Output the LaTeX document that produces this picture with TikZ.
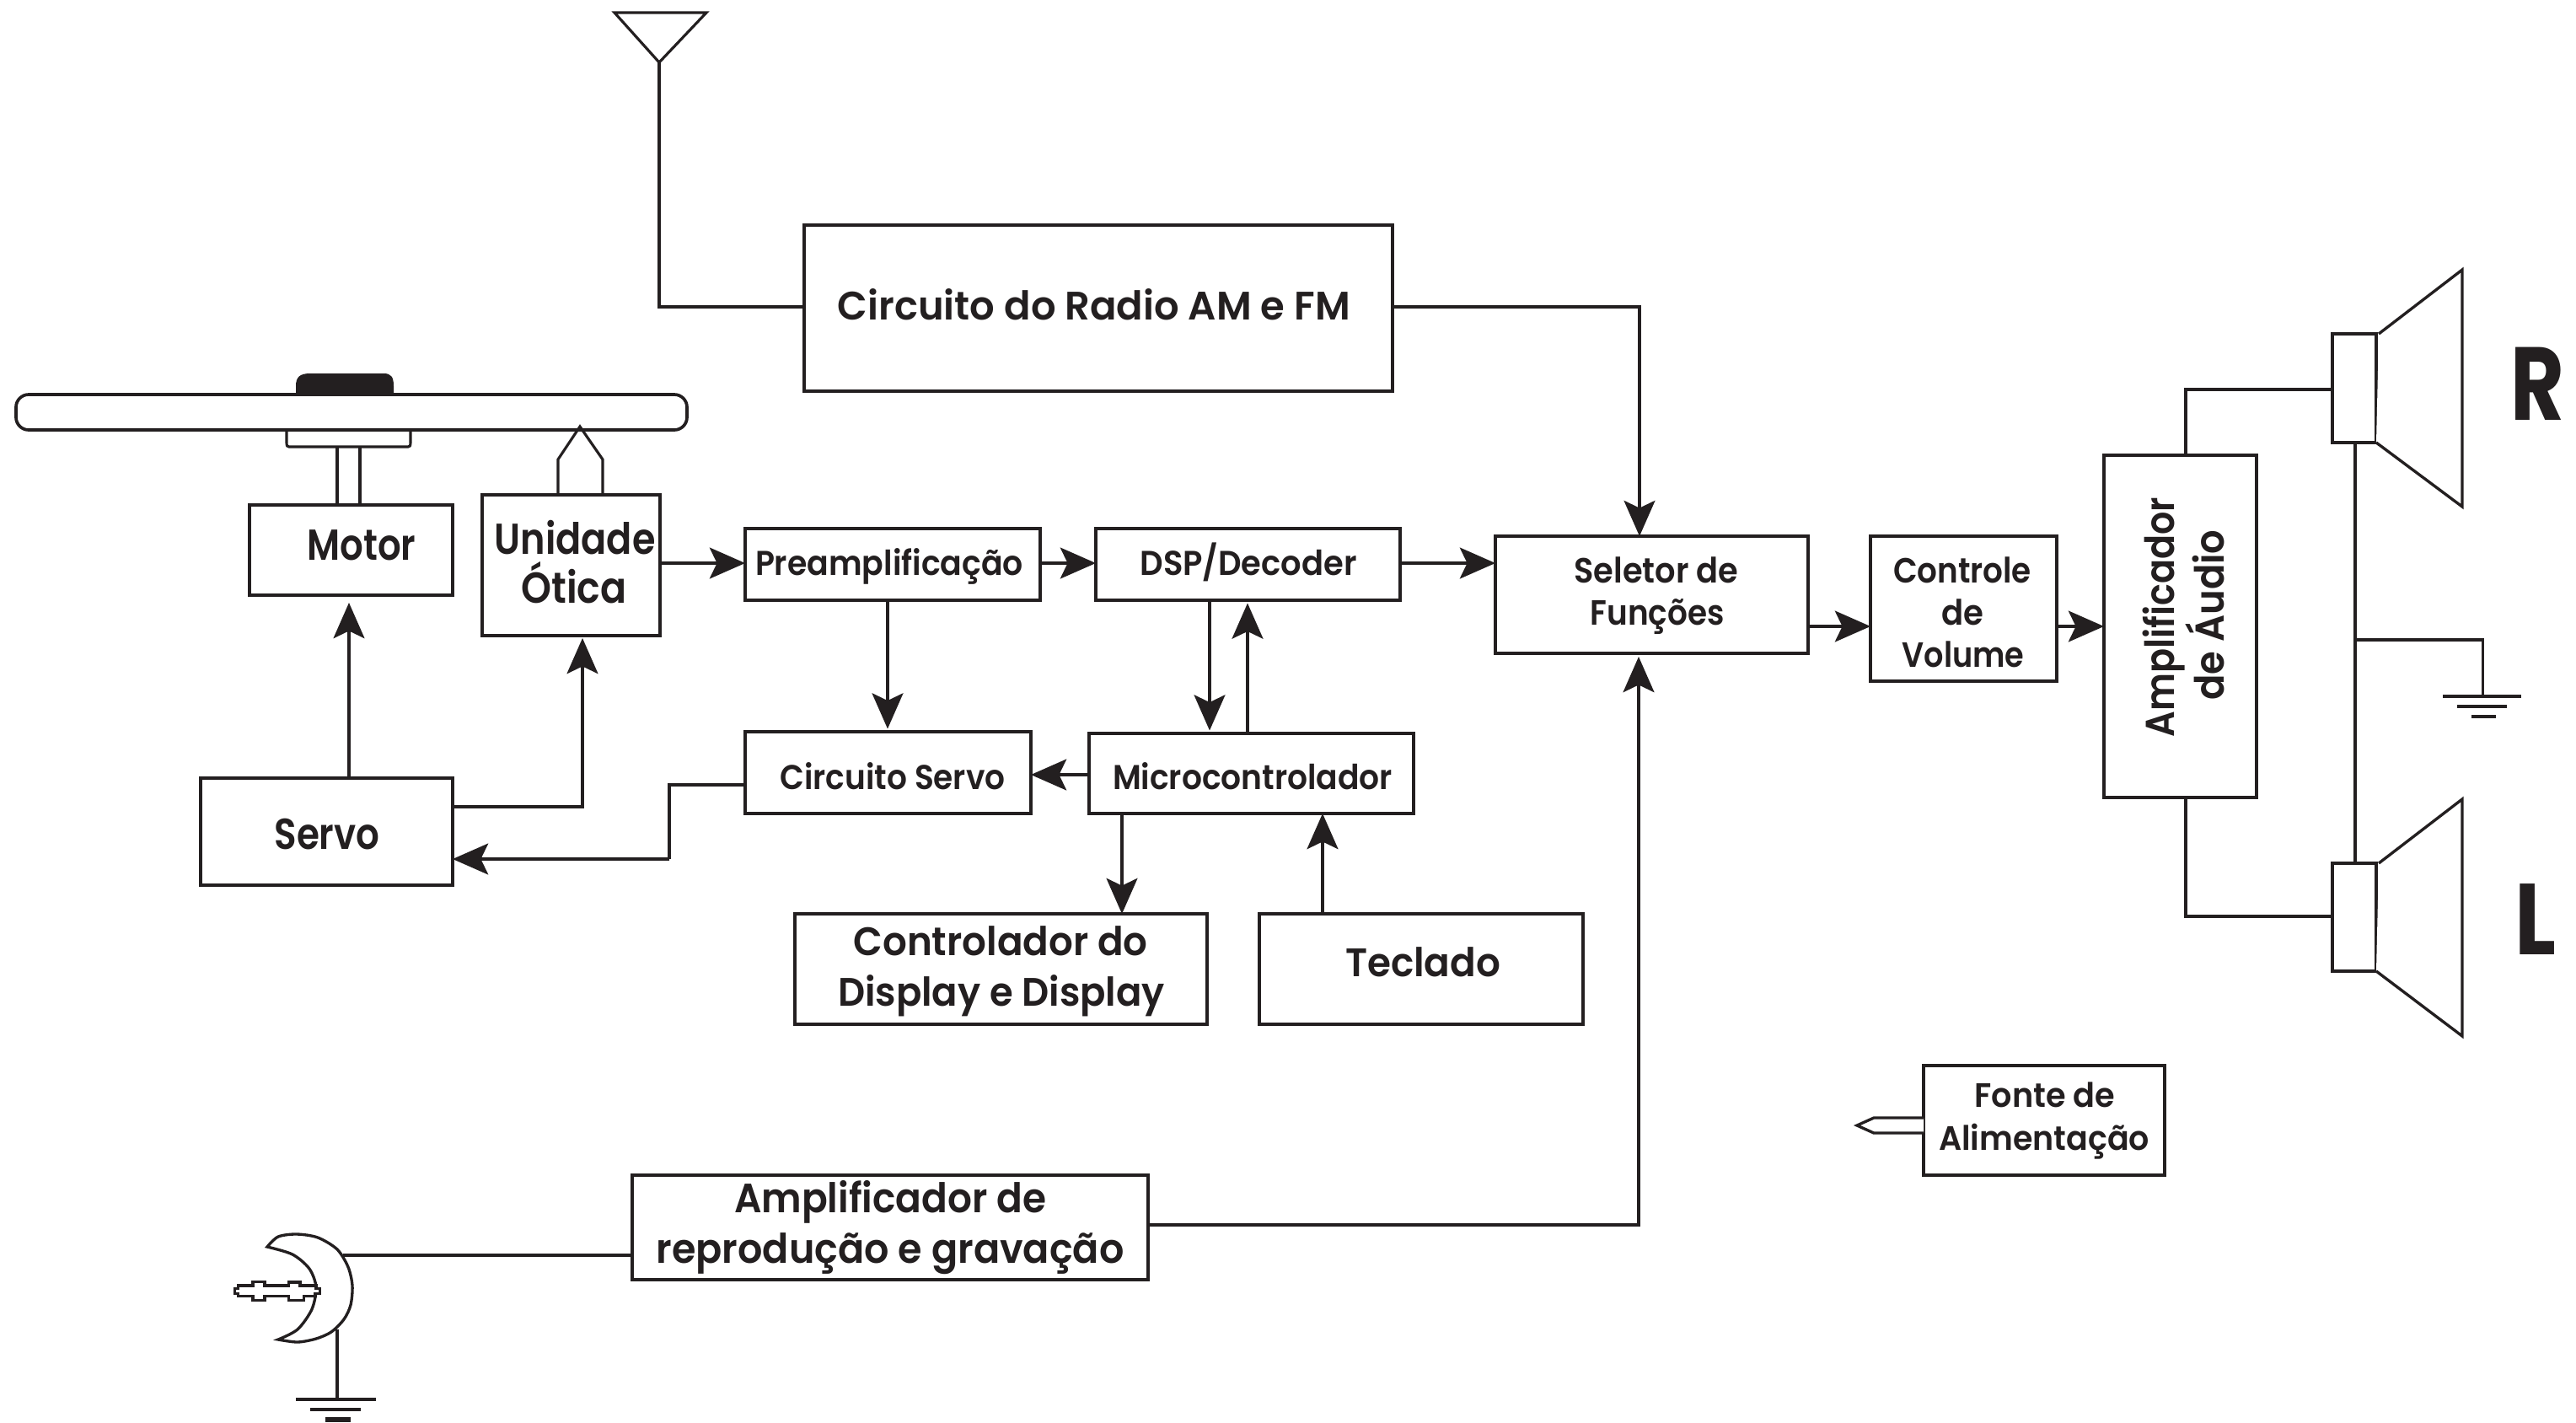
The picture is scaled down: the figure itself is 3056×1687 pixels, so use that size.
\documentclass[tikz,border=0pt]{standalone}
\usepackage{graphicx}
\usepackage{fontspec}
\setmainfont{Poppins SemiBold}
\newfontfamily\heavyfont{Poppins}[UprightFont=*-Bold]
\usetikzlibrary{arrows.meta}
\definecolor{ink}{HTML}{231F20}
\newlength{\pxu}\setlength{\pxu}{0.01cm}
\newcommand{\lbl}[3]{\resizebox{#1\pxu}{\height}{\fontsize{#2}{#2}\selectfont #3}}
\newcommand{\blk}[5]{\node[blk,minimum width={(#4-#2)*0.01cm},minimum height={(#5-#3)*0.01cm}] (#1) at ({(#2+#4)/2},{(#3+#5)/2}) {};}
\tikzset{
  x=0.01cm,y=-0.01cm,
  every path/.style={line join=miter},
  blk/.style={draw=ink,line width=1.05pt,fill=white,inner sep=0pt,outer sep=0pt},
  txt/.style={anchor=base,inner sep=0pt,outer sep=0pt,text=ink,yshift=-0.4pt},
  wire/.style={draw=ink,line width=0.9pt},
  arr/.style={wire,-{Stealth[length=12pt,width=10.5pt,inset=2.5pt]}},
  gap/.style={shorten >=1pt},
  outline/.style={draw=ink,line width=0.95pt,fill=white}
}
\begin{document}
\begin{tikzpicture}
\useasboundingbox (0,0) rectangle (3056,1687);
\fill[white] (0,0) rectangle (3056,1687);

% disc and pickup
\fill[ink] (351,468) -- (351,458) .. controls (351,447) and (356,443) .. (368,443) -- (455,443) .. controls (464,443) and (467,447) .. (467,458) -- (467,468) -- cycle;
\draw[wire] (340,509) -- (340,525) .. controls (340,529) and (341,530) .. (343,530) -- (484,530) .. controls (486,530) and (487,529) .. (487,525) -- (487,509);
\node[blk,rounded corners=0.15cm,minimum width={796*0.01cm},minimum height={42*0.01cm}] (disc) at (417,489) {};
\draw[wire] (400,530) -- (400,599);
\draw[wire] (427,530) -- (427,599);
\draw[wire] (662,587) -- (662,545) -- (688,506) -- (715,545) -- (715,587);

% blocks
\blk{motor}{296}{599}{537}{706}
\blk{otica}{572}{587}{783}{754}
\blk{servo}{238}{923}{537}{1050}
\blk{radio}{954}{267}{1652}{464}
\blk{pre}{884}{627}{1234}{712}
\blk{dsp}{1300}{627}{1661}{712}
\blk{cservo}{884}{868}{1223}{965}
\blk{micro}{1292}{870}{1677}{965}
\blk{ctrl}{943}{1084}{1432}{1215}
\blk{tecl}{1494}{1084}{1878}{1215}
\blk{sel}{1774}{636}{2145}{775}
\blk{vol}{2219}{636}{2440}{808}
\blk{amp}{2496}{540}{2677}{946}
\blk{fonte}{2282}{1264}{2568}{1394}
\blk{rep}{750}{1394}{1362}{1518}
\blk{spkR}{2767}{396}{2819}{525}
\blk{spkL}{2767}{1024}{2819}{1152}

% labels
\node[txt] (tmotor) at (429,663) {\lbl{129}{14.6pt}{Motor}};
\node[txt] (tuni) at (682,656) {\lbl{191}{14.6pt}{Unidade}};
\node[txt] (toti) at (681,714) {\lbl{125}{14.6pt}{Ótica}};
\node[txt] (tservo) at (388,1006) {\lbl{125}{14.6pt}{Servo}};
\node[txt] (tradio) at (1298,378) {\lbl{608}{13.4pt}{Circuito do Radio AM e FM}};
\node[txt] (tpre) at (1055,681) {\lbl{318}{11.6pt}{Preamplificação}};
\node[txt] (tdsp) at (1481,681) {\lbl{257}{11.6pt}{DSP/Decoder}};
\node[txt] (tcs) at (1059,935) {\lbl{267}{11.6pt}{Circuito Servo}};
\node[txt] (tmic) at (1486,935) {\lbl{332}{11.6pt}{Microcontrolador}};
\node[txt] (tc1) at (1187,1132) {\lbl{349}{13.4pt}{Controlador do}};
\node[txt] (tc2) at (1188,1192) {\lbl{388}{13.4pt}{Display e Display}};
\node[txt] (ttec) at (1688,1157) {\lbl{184}{13.4pt}{Teclado}};
\node[txt] (ts1) at (1965,690) {\lbl{195}{11.8pt}{Seletor de}};
\node[txt] (ts2) at (1966,740) {\lbl{159}{11.8pt}{Funções}};
\node[txt] (tv1) at (2328,690) {\lbl{164}{11.8pt}{Controle}};
\node[txt] (tv2) at (2328,740) {\lbl{50}{11.8pt}{de}};
\node[txt] (tv3) at (2329,790) {\lbl{145}{11.8pt}{Volume}};
\node[txt,rotate=90] (ta1) at (2579.5,730.6) {\lbl{284}{13.6pt}{Amplificador}};
\node[txt,rotate=90] (ta2) at (2638,728) {\lbl{202}{13.6pt}{de Áudio}};
\node[txt] (tf1) at (2426,1312) {\lbl{167}{11.4pt}{Fonte de}};
\node[txt] (tf2) at (2425,1363) {\lbl{250}{11.4pt}{Alimentação}};
\node[txt] (tr1) at (1056,1437) {\lbl{370}{13.8pt}{Amplificador de}};
\node[txt] (tr2) at (1056,1497) {\lbl{555}{13.8pt}{reprodução e gravação}};
\node[txt] (tR) at (3010,497) {\heavyfont\lbl{64}{35pt}{R}};
\node[txt] (tL) at (3008,1131) {\heavyfont\lbl{49}{34pt}{L}};

% antenna
\coordinate (anttip) at (782,74);
\draw[wire,line join=miter] (729,15) -- (838,15) -- (anttip) -- cycle;
\draw[wire] (anttip) -- (782,364) -- (radio.west |- 0,364);

% connectors
\draw[arr] (radio.east |- 0,364) -- (1945,364) -- (sel.north -| 1945,0);
\draw[arr] (servo.north -| 414,0) -- (414,715);
\draw[arr] (servo.east |- 0,957) -- (691,957) -- (691,757);
\draw[wire] (cservo.west |- 0,931) -- (794,931) -- (794,1019);
\draw[arr] (794,1019) -- (servo.east |- 0,1019);
\draw[arr] (otica.east |- 0,668) -- (pre.west |- 0,668);
\draw[arr] (pre.east |- 0,668) -- (dsp.west |- 0,668);
\draw[arr] (dsp.east |- 0,668) -- (sel.west |- 0,668);
\draw[arr,gap] (pre.south -| 1053,0) -- (cservo.north -| 1053,0);
\draw[arr,gap] (dsp.south -| 1435,0) -- (micro.north -| 1435,0);
\draw[arr,gap] (micro.north -| 1480,0) -- (dsp.south -| 1480,0);
\draw[arr] (micro.west |- 0,919) -- (cservo.east |- 0,919);
\draw[arr] (micro.south -| 1331,0) -- (ctrl.north -| 1331,0);
\draw[arr] (tecl.north -| 1569,0) -- (micro.south -| 1569,0);
\draw[arr] (rep.east |- 0,1453) -- (1944,1453) -- (1944,779);
\draw[arr] (sel.east |- 0,743) -- (vol.west |- 0,743);
\draw[arr] (vol.east |- 0,743) -- (amp.west |- 0,743);

% speakers
\draw[outline] (2822,396) -- (2921,320) -- (2921,601) -- (2819,525);
\draw[outline] (2822,1024) -- (2921,948) -- (2921,1229) -- (2819,1152);
\draw[wire] (amp.north -| 2593,0) -- (2593,462) -- (spkR.west |- 0,462);
\draw[wire] (amp.south -| 2593,0) -- (2593,1087) -- (spkL.west |- 0,1087);
\draw[draw=ink,line width=1.1pt] (2794,527) -- (spkL.north -| 2794,0);
\coordinate (gndR) at (2945.5,826);
\draw[wire] (2794,759) -- (2945.5,759) -- (gndR);
\draw[wire] (2898,826) -- (2991,826);
\draw[wire] (2915,838) -- (2974,838);
\draw[wire] (2932,850) -- (2961,850);

% power plug
\draw[outline] (fonte.west |- 0,1326) -- (2223,1326) -- (2203,1335) -- (2223,1344) -- (fonte.west |- 0,1344);

% tape head
\draw[wire] (rep.west |- 0,1489) -- (407,1489);
\coordinate (gndL) at (400,1660);
\draw[wire] (400,1577) -- (gndL);
\draw[wire] (351,1660) -- (446,1660);
\draw[wire] (368,1672) -- (428,1672);
\draw[draw=ink,line width=1.5pt] (386,1684) -- (416,1684);
\draw[outline] plot[smooth] coordinates {(317,1479) (330,1467) (352,1464) (377,1468) (400,1482) (413,1503) (418,1525) (416,1548) (408,1565) (393,1580) (375,1588) (353,1592) (330,1589)}
  -- plot[smooth] coordinates {(330,1589) (353,1577) (370,1553) (375,1527) (367,1505) (347,1488) (317,1479)} -- cycle;
\draw[outline] (278.3,1528.3) -- (282.3,1528.3) -- (282.3,1525) -- (300,1525) -- (300,1520.3) -- (314,1520.3) -- (314,1525) -- (342.7,1525) -- (342.7,1521) -- (356,1521) -- (356,1525) -- (375,1525) -- (375,1528.3) -- (379.3,1528.3) -- (379.3,1534.3) -- (374,1534.3) -- (374,1537.7) -- (360.7,1537.7) -- (360.7,1542.3) -- (342.7,1542.3) -- (342.7,1537.7) -- (314,1537.7) -- (314,1542.3) -- (300,1542.3) -- (300,1537.7) -- (282.3,1537.7) -- (282.3,1534.3) -- (278.3,1534.3) -- cycle;
\end{tikzpicture}
\end{document}
